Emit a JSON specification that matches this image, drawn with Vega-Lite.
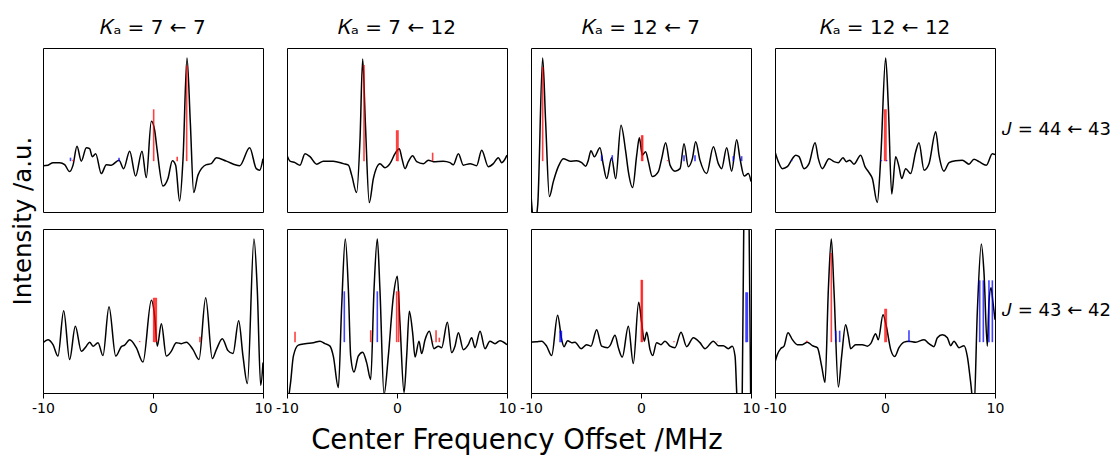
{
"$schema": "https://vega.github.io/schema/vega-lite/v6.json",
"padding": {"left": 10, "top": 18, "right": 0, "bottom": 0},
"background": "white",
"bounds": "flush",
"title": {"text": "Center Frequency Offset /MHz", "orient": "bottom", "anchor": "middle", "frame": "bounds", "dx": -44, "fontSize": 27.5, "font": "DejaVu Sans", "fontWeight": "normal", "color": "black", "offset": 12},
"data": {"values": [
{"K":"1212","J":"44","t":"lab","lab":"𝐽 = 44 ← 43"},{"K":"1212","J":"43","t":"lab","lab":"𝐽 = 43 ← 42"},
{"K":"77","J":"44","t":"s","x":-10,"y":-0.09},{"K":"77","J":"44","t":"s","x":-9.55,"y":-0.08},{"K":"77","J":"44","t":"s","x":-9.09,"y":-0.03},{"K":"77","J":"44","t":"s","x":-8.48,"y":-0.03},{"K":"77","J":"44","t":"s","x":-8.03,"y":-0.07},{"K":"77","J":"44","t":"s","x":-7.58,"y":-0.21},{"K":"77","J":"44","t":"s","x":-7.27,"y":-0.08},{"K":"77","J":"44","t":"s","x":-6.91,"y":0.30},{"K":"77","J":"44","t":"s","x":-6.52,"y":0},{"K":"77","J":"44","t":"s","x":-6.06,"y":0.27},{"K":"77","J":"44","t":"s","x":-5.76,"y":0.25},{"K":"77","J":"44","t":"s","x":-5.52,"y":0.09},{"K":"77","J":"44","t":"s","x":-5.21,"y":0.15},{"K":"77","J":"44","t":"s","x":-4.70,"y":-0.25},{"K":"77","J":"44","t":"s","x":-4.24,"y":-0.07},{"K":"77","J":"44","t":"s","x":-3.79,"y":-0.08},{"K":"77","J":"44","t":"s","x":-3.09,"y":0.02},{"K":"77","J":"44","t":"s","x":-2.67,"y":-0.15},{"K":"77","J":"44","t":"s","x":-2.12,"y":0.20},{"K":"77","J":"44","t":"s","x":-1.58,"y":-0.30},{"K":"77","J":"44","t":"s","x":-1.0,"y":0.20},{"K":"77","J":"44","t":"s","x":-0.61,"y":-0.33},{"K":"77","J":"44","t":"s","x":-0.15,"y":0.80},{"K":"77","J":"44","t":"s","x":0.15,"y":0.62},{"K":"77","J":"44","t":"s","x":0.36,"y":0.25},{"K":"77","J":"44","t":"s","x":0.91,"y":-0.50},{"K":"77","J":"44","t":"s","x":1.36,"y":-0.35},{"K":"77","J":"44","t":"s","x":1.76,"y":0.01},{"K":"77","J":"44","t":"s","x":2.06,"y":-0.08},{"K":"77","J":"44","t":"s","x":2.42,"y":-0.80},{"K":"77","J":"44","t":"s","x":2.73,"y":0.05},{"K":"77","J":"44","t":"s","x":3.09,"y":2.07},{"K":"77","J":"44","t":"s","x":3.39,"y":0.79},{"K":"77","J":"44","t":"s","x":3.70,"y":-0.63},{"K":"77","J":"44","t":"s","x":4.09,"y":-0.28},{"K":"77","J":"44","t":"s","x":4.85,"y":-0.07},{"K":"77","J":"44","t":"s","x":5.30,"y":-0.05},{"K":"77","J":"44","t":"s","x":5.76,"y":0.07},{"K":"77","J":"44","t":"s","x":6.67,"y":0},{"K":"77","J":"44","t":"s","x":7.88,"y":-0.09},{"K":"77","J":"44","t":"s","x":8.79,"y":0.27},{"K":"77","J":"44","t":"s","x":9.39,"y":-0.15},{"K":"77","J":"44","t":"s","x":9.70,"y":-0.18},{"K":"77","J":"44","t":"s","x":10,"y":0.05},
{"K":"77","J":"44","t":"r","x":0.06,"y":1.04},{"K":"77","J":"44","t":"r","x":3.06,"y":1.92},{"K":"77","J":"44","t":"r","x":2.2,"y":0.09},{"K":"77","J":"44","t":"r","x":-7.27,"y":0.03},{"K":"77","J":"44","t":"b","x":-7.5,"y":0.07},{"K":"77","J":"44","t":"b","x":-3.09,"y":0.07},
{"K":"712","J":"44","t":"s","x":-10,"y":0.12},{"K":"712","J":"44","t":"s","x":-9.73,"y":0},{"K":"712","J":"44","t":"s","x":-9.27,"y":-0.03},{"K":"712","J":"44","t":"s","x":-8.82,"y":-0.08},{"K":"712","J":"44","t":"s","x":-8.36,"y":0.15},{"K":"712","J":"44","t":"s","x":-7.91,"y":0.09},{"K":"712","J":"44","t":"s","x":-7.30,"y":-0.06},{"K":"712","J":"44","t":"s","x":-6.70,"y":0},{"K":"712","J":"44","t":"s","x":-5.79,"y":0},{"K":"712","J":"44","t":"s","x":-4.88,"y":-0.05},{"K":"712","J":"44","t":"s","x":-4.42,"y":-0.08},{"K":"712","J":"44","t":"s","x":-4.12,"y":-0.28},{"K":"712","J":"44","t":"s","x":-3.67,"y":-0.63},{"K":"712","J":"44","t":"s","x":-3.36,"y":0.45},{"K":"712","J":"44","t":"s","x":-3.12,"y":2.05},{"K":"712","J":"44","t":"s","x":-2.88,"y":0.79},{"K":"712","J":"44","t":"s","x":-2.52,"y":-0.83},{"K":"712","J":"44","t":"s","x":-2.15,"y":-0.35},{"K":"712","J":"44","t":"s","x":-1.55,"y":-0.05},{"K":"712","J":"44","t":"s","x":-1.09,"y":-0.13},{"K":"712","J":"44","t":"s","x":-0.64,"y":-0.05},{"K":"712","J":"44","t":"s","x":-0.18,"y":0.15},{"K":"712","J":"44","t":"s","x":0.21,"y":0.25},{"K":"712","J":"44","t":"s","x":0.45,"y":0.05},{"K":"712","J":"44","t":"s","x":0.73,"y":-0.15},{"K":"712","J":"44","t":"s","x":1.03,"y":-0.01},{"K":"712","J":"44","t":"s","x":1.42,"y":0.11},{"K":"712","J":"44","t":"s","x":1.79,"y":-0.01},{"K":"712","J":"44","t":"s","x":2.39,"y":-0.05},{"K":"712","J":"44","t":"s","x":2.85,"y":0.02},{"K":"712","J":"44","t":"s","x":3.30,"y":-0.01},{"K":"712","J":"44","t":"s","x":4.21,"y":0},{"K":"712","J":"44","t":"s","x":4.82,"y":-0.03},{"K":"712","J":"44","t":"s","x":5.12,"y":-0.07},{"K":"712","J":"44","t":"s","x":5.58,"y":0.15},{"K":"712","J":"44","t":"s","x":6.03,"y":-0.08},{"K":"712","J":"44","t":"s","x":6.64,"y":-0.05},{"K":"712","J":"44","t":"s","x":7.24,"y":-0.09},{"K":"712","J":"44","t":"s","x":7.70,"y":0.22},{"K":"712","J":"44","t":"s","x":8.30,"y":-0.11},{"K":"712","J":"44","t":"s","x":8.76,"y":-0.05},{"K":"712","J":"44","t":"s","x":9.21,"y":0.07},{"K":"712","J":"44","t":"s","x":9.52,"y":-0.03},{"K":"712","J":"44","t":"s","x":10,"y":0.12},
{"K":"712","J":"44","t":"r","x":-3.0,"y":1.93},{"K":"712","J":"44","t":"r","x":-0.03,"y":0.62},{"K":"712","J":"44","t":"r","x":0.09,"y":0.62},{"K":"712","J":"44","t":"r","x":3.24,"y":0.17},
{"K":"127","J":"44","t":"s","x":-10,"y":-0.68},{"K":"127","J":"44","t":"s","x":-9.70,"y":-1.28},{"K":"127","J":"44","t":"s","x":-9.39,"y":-0.88},{"K":"127","J":"44","t":"s","x":-8.94,"y":2.07},{"K":"127","J":"44","t":"s","x":-8.67,"y":0.79},{"K":"127","J":"44","t":"s","x":-8.33,"y":-0.71},{"K":"127","J":"44","t":"s","x":-7.97,"y":-0.41},{"K":"127","J":"44","t":"s","x":-7.52,"y":-0.11},{"K":"127","J":"44","t":"s","x":-7.06,"y":0.05},{"K":"127","J":"44","t":"s","x":-6.45,"y":0},{"K":"127","J":"44","t":"s","x":-5.85,"y":0.01},{"K":"127","J":"44","t":"s","x":-5.39,"y":-0.03},{"K":"127","J":"44","t":"s","x":-5.03,"y":-0.10},{"K":"127","J":"44","t":"s","x":-4.79,"y":0.02},{"K":"127","J":"44","t":"s","x":-4.55,"y":0.21},{"K":"127","J":"44","t":"s","x":-4.24,"y":0.09},{"K":"127","J":"44","t":"s","x":-3.73,"y":0.27},{"K":"127","J":"44","t":"s","x":-3.42,"y":-0.08},{"K":"127","J":"44","t":"s","x":-3.12,"y":-0.35},{"K":"127","J":"44","t":"s","x":-2.67,"y":0.07},{"K":"127","J":"44","t":"s","x":-2.30,"y":-0.35},{"K":"127","J":"44","t":"s","x":-1.82,"y":0.72},{"K":"127","J":"44","t":"s","x":-1.39,"y":0.19},{"K":"127","J":"44","t":"s","x":-1.15,"y":-0.21},{"K":"127","J":"44","t":"s","x":-0.76,"y":-0.53},{"K":"127","J":"44","t":"s","x":-0.39,"y":0.12},{"K":"127","J":"44","t":"s","x":-0.15,"y":0.47},{"K":"127","J":"44","t":"s","x":0.12,"y":0.12},{"K":"127","J":"44","t":"s","x":0.42,"y":0.19},{"K":"127","J":"44","t":"s","x":0.67,"y":-0.01},{"K":"127","J":"44","t":"s","x":1.03,"y":-0.31},{"K":"127","J":"44","t":"s","x":1.58,"y":-0.21},{"K":"127","J":"44","t":"s","x":1.88,"y":0.05},{"K":"127","J":"44","t":"s","x":2.24,"y":0.37},{"K":"127","J":"44","t":"s","x":2.64,"y":-0.08},{"K":"127","J":"44","t":"s","x":3.09,"y":-0.20},{"K":"127","J":"44","t":"s","x":3.55,"y":-0.15},{"K":"127","J":"44","t":"s","x":3.91,"y":0.35},{"K":"127","J":"44","t":"s","x":4.30,"y":-0.11},{"K":"127","J":"44","t":"s","x":4.67,"y":0.05},{"K":"127","J":"44","t":"s","x":4.97,"y":0.39},{"K":"127","J":"44","t":"s","x":5.36,"y":0.02},{"K":"127","J":"44","t":"s","x":5.97,"y":-0.25},{"K":"127","J":"44","t":"s","x":6.58,"y":0.29},{"K":"127","J":"44","t":"s","x":7.03,"y":-0.05},{"K":"127","J":"44","t":"s","x":7.33,"y":-0.15},{"K":"127","J":"44","t":"s","x":7.79,"y":0.27},{"K":"127","J":"44","t":"s","x":8.24,"y":-0.20},{"K":"127","J":"44","t":"s","x":8.70,"y":0.43},{"K":"127","J":"44","t":"s","x":9.0,"y":0.05},{"K":"127","J":"44","t":"s","x":9.39,"y":-0.30},{"K":"127","J":"44","t":"s","x":9.76,"y":-0.25},{"K":"127","J":"44","t":"s","x":10,"y":-0.41},
{"K":"127","J":"44","t":"r","x":-8.94,"y":1.89},{"K":"127","J":"44","t":"r","x":0.06,"y":0.52},{"K":"127","J":"44","t":"r","x":0.15,"y":0.52},{"K":"127","J":"44","t":"r","x":2.42,"y":0.02},{"K":"127","J":"44","t":"b","x":-3.58,"y":0.12},{"K":"127","J":"44","t":"b","x":-2.61,"y":0.12},{"K":"127","J":"44","t":"b","x":3.91,"y":0.12},{"K":"127","J":"44","t":"b","x":4.91,"y":0.12},{"K":"127","J":"44","t":"b","x":8.39,"y":0.1},{"K":"127","J":"44","t":"b","x":9.15,"y":0.1},
{"K":"1212","J":"44","t":"s","x":-10,"y":0.19},{"K":"1212","J":"44","t":"s","x":-9.70,"y":-0.01},{"K":"1212","J":"44","t":"s","x":-9.33,"y":-0.15},{"K":"1212","J":"44","t":"s","x":-8.88,"y":-0.11},{"K":"1212","J":"44","t":"s","x":-8.42,"y":0.05},{"K":"1212","J":"44","t":"s","x":-8.12,"y":0.12},{"K":"1212","J":"44","t":"s","x":-7.82,"y":0.09},{"K":"1212","J":"44","t":"s","x":-7.36,"y":-0.15},{"K":"1212","J":"44","t":"s","x":-6.91,"y":-0.05},{"K":"1212","J":"44","t":"s","x":-6.36,"y":0.37},{"K":"1212","J":"44","t":"s","x":-6.06,"y":0.05},{"K":"1212","J":"44","t":"s","x":-5.70,"y":-0.15},{"K":"1212","J":"44","t":"s","x":-5.09,"y":0.05},{"K":"1212","J":"44","t":"s","x":-4.64,"y":-0.01},{"K":"1212","J":"44","t":"s","x":-4.24,"y":-0.03},{"K":"1212","J":"44","t":"s","x":-3.82,"y":0.07},{"K":"1212","J":"44","t":"s","x":-3.52,"y":-0.01},{"K":"1212","J":"44","t":"s","x":-3.21,"y":0.02},{"K":"1212","J":"44","t":"s","x":-2.82,"y":-0.06},{"K":"1212","J":"44","t":"s","x":-2.21,"y":0.12},{"K":"1212","J":"44","t":"s","x":-1.82,"y":-0.11},{"K":"1212","J":"44","t":"s","x":-1.45,"y":-0.23},{"K":"1212","J":"44","t":"s","x":-1.15,"y":-0.35},{"K":"1212","J":"44","t":"s","x":-0.70,"y":-0.83},{"K":"1212","J":"44","t":"s","x":-0.39,"y":0.05},{"K":"1212","J":"44","t":"s","x":0.06,"y":2.07},{"K":"1212","J":"44","t":"s","x":0.30,"y":1.12},{"K":"1212","J":"44","t":"s","x":0.61,"y":-0.66},{"K":"1212","J":"44","t":"s","x":0.97,"y":0.09},{"K":"1212","J":"44","t":"s","x":1.27,"y":-0.11},{"K":"1212","J":"44","t":"s","x":1.52,"y":-0.35},{"K":"1212","J":"44","t":"s","x":1.88,"y":-0.15},{"K":"1212","J":"44","t":"s","x":2.33,"y":-0.25},{"K":"1212","J":"44","t":"s","x":2.79,"y":0.19},{"K":"1212","J":"44","t":"s","x":3.09,"y":0.37},{"K":"1212","J":"44","t":"s","x":3.55,"y":-0.18},{"K":"1212","J":"44","t":"s","x":4.0,"y":-0.05},{"K":"1212","J":"44","t":"s","x":4.61,"y":0.59},{"K":"1212","J":"44","t":"s","x":4.91,"y":0.12},{"K":"1212","J":"44","t":"s","x":5.36,"y":-0.20},{"K":"1212","J":"44","t":"s","x":5.82,"y":-0.03},{"K":"1212","J":"44","t":"s","x":6.42,"y":0.01},{"K":"1212","J":"44","t":"s","x":7.03,"y":0.02},{"K":"1212","J":"44","t":"s","x":7.64,"y":-0.06},{"K":"1212","J":"44","t":"s","x":8.09,"y":0.04},{"K":"1212","J":"44","t":"s","x":8.55,"y":-0.01},{"K":"1212","J":"44","t":"s","x":9.21,"y":-0.08},{"K":"1212","J":"44","t":"s","x":9.76,"y":0.15},{"K":"1212","J":"44","t":"s","x":10,"y":0.13},
{"K":"1212","J":"44","t":"r","x":-0.03,"y":1.04},{"K":"1212","J":"44","t":"r","x":0.09,"y":1.04},{"K":"1212","J":"44","t":"b","x":-0.33,"y":0.02},{"K":"1212","J":"44","t":"b","x":0.15,"y":0.02},{"K":"1212","J":"44","t":"b","x":-8.48,"y":0.02},
{"K":"77","J":"43","t":"s","x":-10,"y":-0.01},{"K":"77","J":"43","t":"s","x":-9.55,"y":0.05},{"K":"77","J":"43","t":"s","x":-9.09,"y":-0.05},{"K":"77","J":"43","t":"s","x":-8.64,"y":-0.28},{"K":"77","J":"43","t":"s","x":-8.12,"y":0.63},{"K":"77","J":"43","t":"s","x":-7.58,"y":-0.35},{"K":"77","J":"43","t":"s","x":-7.06,"y":0.32},{"K":"77","J":"43","t":"s","x":-6.52,"y":-0.18},{"K":"77","J":"43","t":"s","x":-6.06,"y":-0.08},{"K":"77","J":"43","t":"s","x":-5.76,"y":0},{"K":"77","J":"43","t":"s","x":-5.45,"y":-0.08},{"K":"77","J":"43","t":"s","x":-5.0,"y":-0.01},{"K":"77","J":"43","t":"s","x":-4.55,"y":-0.27},{"K":"77","J":"43","t":"s","x":-4.0,"y":0.71},{"K":"77","J":"43","t":"s","x":-3.39,"y":-0.28},{"K":"77","J":"43","t":"s","x":-2.88,"y":-0.09},{"K":"77","J":"43","t":"s","x":-2.58,"y":-0.06},{"K":"77","J":"43","t":"s","x":-2.12,"y":0.05},{"K":"77","J":"43","t":"s","x":-1.52,"y":-0.11},{"K":"77","J":"43","t":"s","x":-0.91,"y":-0.40},{"K":"77","J":"43","t":"s","x":-0.15,"y":0.84},{"K":"77","J":"43","t":"s","x":0.15,"y":0.52},{"K":"77","J":"43","t":"s","x":0.39,"y":-0.08},{"K":"77","J":"43","t":"s","x":0.76,"y":0.37},{"K":"77","J":"43","t":"s","x":1.21,"y":-0.28},{"K":"77","J":"43","t":"s","x":1.67,"y":-0.18},{"K":"77","J":"43","t":"s","x":2.12,"y":-0.01},{"K":"77","J":"43","t":"s","x":2.58,"y":-0.03},{"K":"77","J":"43","t":"s","x":3.03,"y":0},{"K":"77","J":"43","t":"s","x":3.64,"y":-0.15},{"K":"77","J":"43","t":"s","x":4.18,"y":-0.35},{"K":"77","J":"43","t":"s","x":4.79,"y":0.89},{"K":"77","J":"43","t":"s","x":5.39,"y":-0.33},{"K":"77","J":"43","t":"s","x":5.76,"y":-0.15},{"K":"77","J":"43","t":"s","x":6.30,"y":0.07},{"K":"77","J":"43","t":"s","x":6.82,"y":-0.17},{"K":"77","J":"43","t":"s","x":7.27,"y":-0.23},{"K":"77","J":"43","t":"s","x":7.79,"y":0.43},{"K":"77","J":"43","t":"s","x":8.18,"y":-0.28},{"K":"77","J":"43","t":"s","x":8.58,"y":-0.83},{"K":"77","J":"43","t":"s","x":9.18,"y":2.07},{"K":"77","J":"43","t":"s","x":9.48,"y":1.05},{"K":"77","J":"43","t":"s","x":9.79,"y":-0.87},{"K":"77","J":"43","t":"s","x":10,"y":-0.41},
{"K":"77","J":"43","t":"r","x":0.06,"y":0.89},{"K":"77","J":"43","t":"r","x":0.18,"y":0.89},{"K":"77","J":"43","t":"r","x":0.3,"y":0.89},{"K":"77","J":"43","t":"r","x":-1.21,"y":0.02},{"K":"77","J":"43","t":"r","x":4.27,"y":0.11},
{"K":"712","J":"43","t":"s","x":-10,"y":-1.4},{"K":"712","J":"43","t":"s","x":-9.79,"y":-1.01},{"K":"712","J":"43","t":"s","x":-9.67,"y":-0.8},{"K":"712","J":"43","t":"s","x":-9.42,"y":-0.28},{"K":"712","J":"43","t":"s","x":-8.97,"y":-0.06},{"K":"712","J":"43","t":"s","x":-8.36,"y":-0.03},{"K":"712","J":"43","t":"s","x":-7.61,"y":-0.01},{"K":"712","J":"43","t":"s","x":-7.0,"y":0.02},{"K":"712","J":"43","t":"s","x":-6.55,"y":-0.03},{"K":"712","J":"43","t":"s","x":-6.09,"y":-0.08},{"K":"712","J":"43","t":"s","x":-5.79,"y":-0.28},{"K":"712","J":"43","t":"s","x":-5.33,"y":-0.91},{"K":"712","J":"43","t":"s","x":-5.03,"y":0.72},{"K":"712","J":"43","t":"s","x":-4.70,"y":2.07},{"K":"712","J":"43","t":"s","x":-4.42,"y":1.05},{"K":"712","J":"43","t":"s","x":-4.21,"y":-0.28},{"K":"712","J":"43","t":"s","x":-3.91,"y":-0.60},{"K":"712","J":"43","t":"s","x":-3.52,"y":-0.28},{"K":"712","J":"43","t":"s","x":-3.12,"y":-0.20},{"K":"712","J":"43","t":"s","x":-2.76,"y":-0.41},{"K":"712","J":"43","t":"s","x":-2.39,"y":-0.75},{"K":"712","J":"43","t":"s","x":-2.09,"y":1.05},{"K":"712","J":"43","t":"s","x":-1.79,"y":2.07},{"K":"712","J":"43","t":"s","x":-1.55,"y":1.05},{"K":"712","J":"43","t":"s","x":-1.18,"y":-1.05},{"K":"712","J":"43","t":"s","x":-0.79,"y":-0.28},{"K":"712","J":"43","t":"s","x":-0.33,"y":0.92},{"K":"712","J":"43","t":"s","x":0.03,"y":1.32},{"K":"712","J":"43","t":"s","x":0.27,"y":0.39},{"K":"712","J":"43","t":"s","x":0.64,"y":-1.01},{"K":"712","J":"43","t":"s","x":0.88,"y":-0.28},{"K":"712","J":"43","t":"s","x":1.12,"y":0.62},{"K":"712","J":"43","t":"s","x":1.42,"y":0.19},{"K":"712","J":"43","t":"s","x":1.64,"y":-0.30},{"K":"712","J":"43","t":"s","x":2.0,"y":0.02},{"K":"712","J":"43","t":"s","x":2.24,"y":-0.23},{"K":"712","J":"43","t":"s","x":2.55,"y":0.05},{"K":"712","J":"43","t":"s","x":2.94,"y":0.22},{"K":"712","J":"43","t":"s","x":3.36,"y":-0.13},{"K":"712","J":"43","t":"s","x":3.76,"y":-0.08},{"K":"712","J":"43","t":"s","x":4.06,"y":-0.11},{"K":"712","J":"43","t":"s","x":4.58,"y":0.40},{"K":"712","J":"43","t":"s","x":4.97,"y":-0.21},{"K":"712","J":"43","t":"s","x":5.27,"y":-0.08},{"K":"712","J":"43","t":"s","x":5.58,"y":0.19},{"K":"712","J":"43","t":"s","x":6.03,"y":-0.15},{"K":"712","J":"43","t":"s","x":6.48,"y":-0.05},{"K":"712","J":"43","t":"s","x":6.79,"y":0.09},{"K":"712","J":"43","t":"s","x":7.09,"y":-0.11},{"K":"712","J":"43","t":"s","x":7.55,"y":0.22},{"K":"712","J":"43","t":"s","x":8.0,"y":-0.13},{"K":"712","J":"43","t":"s","x":8.45,"y":0.02},{"K":"712","J":"43","t":"s","x":8.91,"y":-0.03},{"K":"712","J":"43","t":"s","x":9.36,"y":0.03},{"K":"712","J":"43","t":"s","x":10,"y":-0.05},
{"K":"712","J":"43","t":"r","x":-9.27,"y":0.21},{"K":"712","J":"43","t":"b","x":-4.79,"y":1.02},{"K":"712","J":"43","t":"r","x":-2.39,"y":0.24},{"K":"712","J":"43","t":"b","x":-1.79,"y":1.02},{"K":"712","J":"43","t":"r","x":-0.03,"y":1.02},{"K":"712","J":"43","t":"r","x":0.15,"y":1.02},{"K":"712","J":"43","t":"r","x":3.55,"y":0.24},{"K":"712","J":"43","t":"r","x":3.85,"y":0.09},{"K":"712","J":"43","t":"r","x":3.24,"y":0.02},
{"K":"127","J":"43","t":"s","x":-10,"y":0},{"K":"127","J":"43","t":"s","x":-9.48,"y":0.01},{"K":"127","J":"43","t":"s","x":-9.03,"y":0.02},{"K":"127","J":"43","t":"s","x":-8.58,"y":-0.08},{"K":"127","J":"43","t":"s","x":-8.12,"y":-0.27},{"K":"127","J":"43","t":"s","x":-7.58,"y":0.54},{"K":"127","J":"43","t":"s","x":-7.21,"y":0.05},{"K":"127","J":"43","t":"s","x":-7.0,"y":-0.09},{"K":"127","J":"43","t":"s","x":-6.67,"y":0.03},{"K":"127","J":"43","t":"s","x":-6.30,"y":-0.01},{"K":"127","J":"43","t":"s","x":-6.0,"y":0},{"K":"127","J":"43","t":"s","x":-5.45,"y":-0.13},{"K":"127","J":"43","t":"s","x":-4.94,"y":-0.05},{"K":"127","J":"43","t":"s","x":-4.55,"y":-0.08},{"K":"127","J":"43","t":"s","x":-4.03,"y":0.25},{"K":"127","J":"43","t":"s","x":-3.58,"y":-0.08},{"K":"127","J":"43","t":"s","x":-3.03,"y":-0.11},{"K":"127","J":"43","t":"s","x":-2.82,"y":-0.07},{"K":"127","J":"43","t":"s","x":-2.36,"y":0.14},{"K":"127","J":"43","t":"s","x":-2.06,"y":-0.11},{"K":"127","J":"43","t":"s","x":-1.70,"y":-0.30},{"K":"127","J":"43","t":"s","x":-1.15,"y":0.32},{"K":"127","J":"43","t":"s","x":-0.70,"y":-0.43},{"K":"127","J":"43","t":"s","x":-0.21,"y":0.80},{"K":"127","J":"43","t":"s","x":0.06,"y":0.39},{"K":"127","J":"43","t":"s","x":0.30,"y":0.02},{"K":"127","J":"43","t":"s","x":0.52,"y":0.20},{"K":"127","J":"43","t":"s","x":0.82,"y":-0.15},{"K":"127","J":"43","t":"s","x":1.06,"y":-0.27},{"K":"127","J":"43","t":"s","x":1.42,"y":-0.01},{"K":"127","J":"43","t":"s","x":1.82,"y":-0.05},{"K":"127","J":"43","t":"s","x":2.18,"y":0.02},{"K":"127","J":"43","t":"s","x":2.64,"y":-0.08},{"K":"127","J":"43","t":"s","x":3.09,"y":-0.11},{"K":"127","J":"43","t":"s","x":3.64,"y":0.20},{"K":"127","J":"43","t":"s","x":4.15,"y":-0.09},{"K":"127","J":"43","t":"s","x":4.76,"y":0.09},{"K":"127","J":"43","t":"s","x":5.36,"y":-0.01},{"K":"127","J":"43","t":"s","x":5.82,"y":-0.13},{"K":"127","J":"43","t":"s","x":6.58,"y":0.02},{"K":"127","J":"43","t":"s","x":7.03,"y":-0.07},{"K":"127","J":"43","t":"s","x":7.48,"y":-0.07},{"K":"127","J":"43","t":"s","x":7.94,"y":-0.13},{"K":"127","J":"43","t":"s","x":8.30,"y":-0.08},{"K":"127","J":"43","t":"s","x":8.55,"y":-0.28},{"K":"127","J":"43","t":"s","x":8.72,"y":-1.1},{"K":"127","J":"43","t":"s","x":8.95,"y":-1.8},{"K":"127","J":"43","t":"s","x":9.2,"y":-1.1},{"K":"127","J":"43","t":"s","x":9.35,"y":2.5},{"K":"127","J":"43","t":"s","x":9.55,"y":3.5},{"K":"127","J":"43","t":"s","x":9.82,"y":2.5},{"K":"127","J":"43","t":"s","x":9.97,"y":-1.1},{"K":"127","J":"43","t":"s","x":10.05,"y":-1.8},
{"K":"127","J":"43","t":"b","x":-7.36,"y":0.23},{"K":"127","J":"43","t":"b","x":-7.24,"y":0.23},{"K":"127","J":"43","t":"r","x":0.03,"y":1.25},{"K":"127","J":"43","t":"r","x":0.12,"y":1.25},{"K":"127","J":"43","t":"r","x":3.0,"y":0.02},{"K":"127","J":"43","t":"r","x":6.94,"y":0.01},{"K":"127","J":"43","t":"b","x":9.55,"y":1.0},{"K":"127","J":"43","t":"b","x":9.67,"y":1.0},
{"K":"1212","J":"43","t":"s","x":-10,"y":-0.40},{"K":"1212","J":"43","t":"s","x":-9.79,"y":-0.25},{"K":"1212","J":"43","t":"s","x":-9.48,"y":-0.13},{"K":"1212","J":"43","t":"s","x":-9.18,"y":-0.08},{"K":"1212","J":"43","t":"s","x":-8.82,"y":0.19},{"K":"1212","J":"43","t":"s","x":-8.42,"y":0.05},{"K":"1212","J":"43","t":"s","x":-7.97,"y":-0.05},{"K":"1212","J":"43","t":"s","x":-7.52,"y":-0.05},{"K":"1212","J":"43","t":"s","x":-7.06,"y":0},{"K":"1212","J":"43","t":"s","x":-6.61,"y":-0.07},{"K":"1212","J":"43","t":"s","x":-6.15,"y":-0.11},{"K":"1212","J":"43","t":"s","x":-5.76,"y":-0.48},{"K":"1212","J":"43","t":"s","x":-5.45,"y":-0.81},{"K":"1212","J":"43","t":"s","x":-5.15,"y":1.05},{"K":"1212","J":"43","t":"s","x":-4.88,"y":2.07},{"K":"1212","J":"43","t":"s","x":-4.64,"y":1.05},{"K":"1212","J":"43","t":"s","x":-4.24,"y":-0.90},{"K":"1212","J":"43","t":"s","x":-3.94,"y":-0.28},{"K":"1212","J":"43","t":"s","x":-3.58,"y":0.35},{"K":"1212","J":"43","t":"s","x":-3.33,"y":0.12},{"K":"1212","J":"43","t":"s","x":-3.12,"y":-0.13},{"K":"1212","J":"43","t":"s","x":-2.67,"y":-0.05},{"K":"1212","J":"43","t":"s","x":-2.06,"y":-0.05},{"K":"1212","J":"43","t":"s","x":-1.61,"y":-0.08},{"K":"1212","J":"43","t":"s","x":-1.30,"y":-0.03},{"K":"1212","J":"43","t":"s","x":-0.85,"y":0.17},{"K":"1212","J":"43","t":"s","x":-0.61,"y":0.05},{"K":"1212","J":"43","t":"s","x":-0.18,"y":0.55},{"K":"1212","J":"43","t":"s","x":0.12,"y":0.32},{"K":"1212","J":"43","t":"s","x":0.52,"y":-0.15},{"K":"1212","J":"43","t":"s","x":0.88,"y":-0.29},{"K":"1212","J":"43","t":"s","x":1.27,"y":-0.11},{"K":"1212","J":"43","t":"s","x":1.73,"y":0},{"K":"1212","J":"43","t":"s","x":2.18,"y":0.02},{"K":"1212","J":"43","t":"s","x":2.79,"y":0},{"K":"1212","J":"43","t":"s","x":3.55,"y":0.05},{"K":"1212","J":"43","t":"s","x":4.0,"y":-0.03},{"K":"1212","J":"43","t":"s","x":4.45,"y":-0.09},{"K":"1212","J":"43","t":"s","x":4.76,"y":0.09},{"K":"1212","J":"43","t":"s","x":5.21,"y":0.15},{"K":"1212","J":"43","t":"s","x":5.67,"y":0.09},{"K":"1212","J":"43","t":"s","x":5.97,"y":-0.07},{"K":"1212","J":"43","t":"s","x":6.27,"y":0.02},{"K":"1212","J":"43","t":"s","x":6.73,"y":-0.11},{"K":"1212","J":"43","t":"s","x":7.18,"y":-0.07},{"K":"1212","J":"43","t":"s","x":7.48,"y":-0.28},{"K":"1212","J":"43","t":"s","x":7.79,"y":-0.81},{"K":"1212","J":"43","t":"s","x":8.09,"y":-1.35},{"K":"1212","J":"43","t":"s","x":8.39,"y":0.59},{"K":"1212","J":"43","t":"s","x":8.76,"y":1.97},{"K":"1212","J":"43","t":"s","x":9.0,"y":1.39},{"K":"1212","J":"43","t":"s","x":9.30,"y":-0.08},{"K":"1212","J":"43","t":"s","x":9.45,"y":0.79},{"K":"1212","J":"43","t":"s","x":9.64,"y":1.09},{"K":"1212","J":"43","t":"s","x":9.82,"y":0.79},{"K":"1212","J":"43","t":"s","x":10,"y":0.45},
{"K":"1212","J":"43","t":"r","x":-4.88,"y":1.79},{"K":"1212","J":"43","t":"b","x":-4.48,"y":0.23},{"K":"1212","J":"43","t":"b","x":-4.12,"y":0.23},{"K":"1212","J":"43","t":"r","x":-7.12,"y":0.03},{"K":"1212","J":"43","t":"r","x":0.0,"y":0.67},{"K":"1212","J":"43","t":"r","x":0.12,"y":0.67},{"K":"1212","J":"43","t":"b","x":2.18,"y":0.24},{"K":"1212","J":"43","t":"b","x":8.61,"y":1.24},{"K":"1212","J":"43","t":"b","x":8.94,"y":1.24},{"K":"1212","J":"43","t":"b","x":9.45,"y":1.24},{"K":"1212","J":"43","t":"b","x":9.76,"y":1.24}
]},
"facet": {
  "column": {"field": "K", "type": "nominal", "sort": ["77", "712", "127", "1212"],
    "header": {"title": null,
      "labelOrient": "top", "labelFontSize": 20, "labelFont": "DejaVu Sans", "labelColor": "black", "labelPadding": 10,
      "labelExpr": "datum.value == '77' ? '𝐾ₐ = 7 ← 7' : datum.value == '712' ? '𝐾ₐ = 7 ← 12' : datum.value == '127' ? '𝐾ₐ = 12 ← 7' : '𝐾ₐ = 12 ← 12'"}},
  "row": {"field": "J", "type": "nominal", "sort": ["44", "43"],
    "header": {"title": "Intensity /a.u.", "titleOrient": "left", "titleAngle": -90, "titleFontSize": 24.5, "titleFont": "DejaVu Sans", "titleFontWeight": "normal", "titleColor": "black", "titlePadding": -27, "labels": false}}
},
"spacing": {"row": 17, "column": 24},
"spec": {
  "width": 220,
  "height": 164,
  "layer": [
    {"transform": [{"filter": "datum.t == 's'"}],
     "mark": {"type": "line", "color": "black", "strokeWidth": 1.5, "clip": true, "interpolate": "monotone"},
     "encoding": {
       "x": {"field": "x", "type": "quantitative", "scale": {"domain": [-10, 10], "nice": false, "zero": false},
             "axis": {"values": [-10, 0, 10], "labelExpr": "datum.value + ''", "title": null, "grid": false, "labelFontSize": 14, "labelFont": "DejaVu Sans", "labelColor": "black", "tickColor": "black", "domainColor": "black", "labelFlush": false, "labelOverlap": false, "tickSize": 5, "labelPadding": 3}},
       "y": {"field": "y", "type": "quantitative", "scale": {"domain": [-1.02, 2.27], "nice": false, "zero": false}, "axis": null}
     }},
    {"transform": [{"filter": "datum.t == 'r' || datum.t == 'b'"}],
     "mark": {"type": "rule", "strokeWidth": 1.6, "opacity": 0.75, "clip": true},
     "encoding": {
       "x": {"field": "x", "type": "quantitative"},
       "y": {"field": "y", "type": "quantitative"},
       "y2": {"datum": 0},
       "color": {"field": "t", "type": "nominal", "scale": {"domain": ["r", "b"], "range": ["#ff0000", "#0000ff"]}, "legend": null}
     }},
    {"transform": [{"filter": "datum.t == 'lab'"}],
     "mark": {"type": "text", "align": "left", "baseline": "middle", "dx": 7, "fontSize": 18, "font": "DejaVu Sans", "color": "black"},
     "encoding": {
       "x": {"datum": 10},
       "y": {"datum": 0.625},
       "text": {"field": "lab"}
     }}
  ]
},
"config": {"view": {"stroke": "black", "strokeWidth": 1}}
}
